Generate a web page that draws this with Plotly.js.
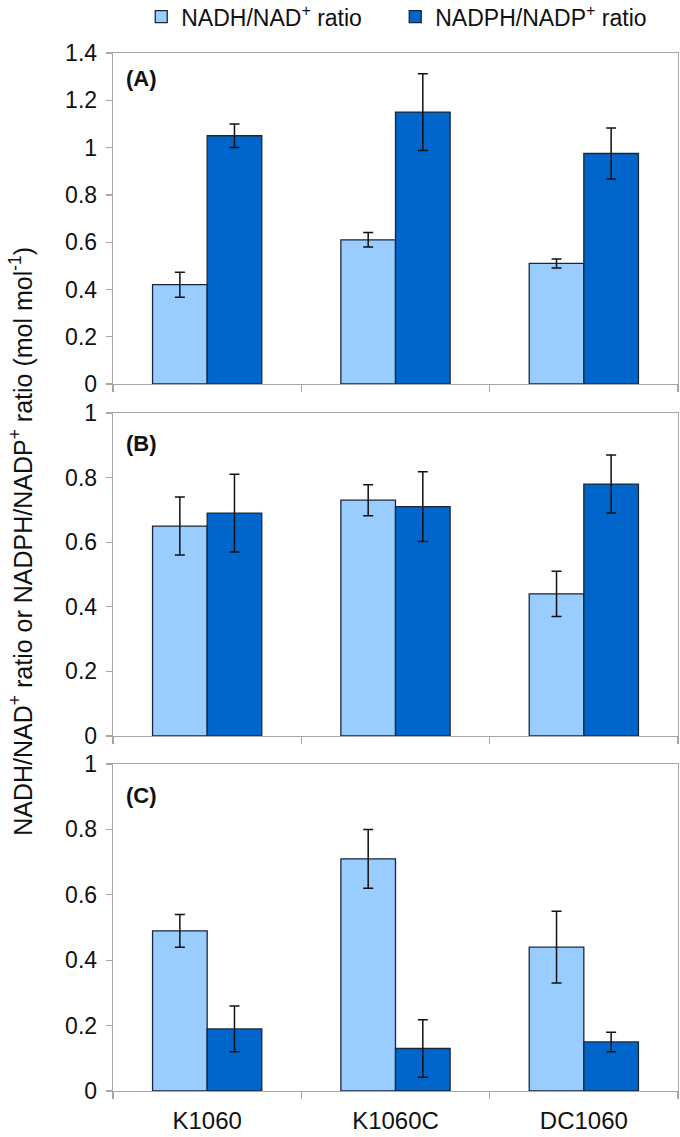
<!DOCTYPE html>
<html>
<head>
<meta charset="utf-8">
<script src="https://cdn.plot.ly/plotly-3.0.1.min.js"></script>
<style>html,body{margin:0;padding:0;background:#fff;}</style>
</head>
<body>
<div id="chart" style="width:680px;height:1137px;"></div>
<script>
// Data
var categories = ["K1060", "K1060C", "DC1060"];
var seriesNames = ["NADH/NAD<sup>+</sup> ratio", "NADPH/NADP<sup>+</sup> ratio"];

// Panel (A)
var nadA = [0.42, 0.61, 0.51];
var nadAErr = [0.053, 0.031, 0.019];
var nadpA = [1.05, 1.15, 0.975];
var nadpAErr = [0.05, 0.162, 0.108];

// Panel (B)
var nadB = [0.65, 0.73, 0.44];
var nadBErr = [0.09, 0.048, 0.07];
var nadpB = [0.69, 0.71, 0.78];
var nadpBErr = [0.12, 0.108, 0.09];

// Panel (C)
var nadC = [0.49, 0.71, 0.44];
var nadCErr = [0.05, 0.09, 0.11];
var nadpC = [0.19, 0.13, 0.15];
var nadpCErr = [0.07, 0.088, 0.03];

var panelLabels = ["(A)", "(B)", "(C)"];

var lightColor = "#99CCFF";
var darkColor = "#0066CC";
var outline = "#1B2738";
var FONT = "Liberation Sans, Arial, sans-serif";

function bar(y, err, color, name, xa, ya, showleg) {
  return {
    type: "bar", x: categories, y: y, name: name,
    xaxis: xa, yaxis: ya, showlegend: showleg,
    marker: {color: color, line: {color: outline, width: 1.3}},
    error_y: {type: "data", array: err, visible: true, color: "#111", thickness: 1.5, width: 5}
  };
}

var traces = [
  bar(nadA, nadAErr, lightColor, seriesNames[0], "x3", "y3", true),
  bar(nadpA, nadpAErr, darkColor, seriesNames[1], "x3", "y3", true),
  bar(nadB, nadBErr, lightColor, seriesNames[0], "x2", "y2", false),
  bar(nadpB, nadpBErr, darkColor, seriesNames[1], "x2", "y2", false),
  bar(nadC, nadCErr, lightColor, seriesNames[0], "x", "y", false),
  bar(nadpC, nadpCErr, darkColor, seriesNames[1], "x", "y", false)
];

var axisLine = "#A6A6A6";
function xax(showLabels, anchor) {
  return {
    type: "category", range: [-0.5, 2.5], anchor: anchor,
    showline: true, linecolor: axisLine, linewidth: 1.3, mirror: true,
    ticks: "outside", tickson: "boundaries", ticklen: 7, tickcolor: axisLine, tickwidth: 1.3,
    showticklabels: showLabels, showgrid: false, zeroline: false,
    ticklabelstandoff: 8,
    tickfont: {family: FONT, size: 24, color: "#111"}
  };
}
function yax(domain, max, anchor) {
  return {
    domain: domain, range: [0, max], dtick: 0.2, anchor: anchor,
    showline: true, linecolor: axisLine, linewidth: 1.3, mirror: true,
    ticks: "outside", ticklen: 6, tickcolor: axisLine, tickwidth: 1.3,
    showgrid: false, zeroline: false,
    ticklabelstandoff: 4,
    tickfont: {family: FONT, size: 23, color: "#111"}
  };
}

var layout = {
  width: 680, height: 1137,
  margin: {l: 113, r: 2, t: 53, b: 46, autoexpand: false},
  paper_bgcolor: "#fff", plot_bgcolor: "#fff",
  barmode: "group", bargap: 0.42, bargroupgap: 0,
  showlegend: true,
  legend: {orientation: "h", x: 0.05, xanchor: "left", y: 1.035, yanchor: "middle",
    entrywidth: 209, entrywidthmode: "pixels",
    font: {family: FONT, size: 23, color: "#111"}, traceorder: "normal"},
  xaxis: xax(true, "y"),
  xaxis2: xax(false, "y2"),
  xaxis3: xax(false, "y3"),
  yaxis: yax([0, 0.315], 1, "x"),
  yaxis2: yax([0.342, 0.6532], 1, "x2"),
  yaxis3: yax([0.6811, 1], 1.4, "x3"),
  annotations: [
    {text: panelLabels[0], xref: "paper", yref: "paper", x: 0.02, y: 0.975, xanchor: "left", yanchor: "middle", showarrow: false,
     font: {family: FONT, size: 22, color: "#111", weight: "bold"}},
    {text: panelLabels[1], xref: "paper", yref: "paper", x: 0.02, y: 0.624, xanchor: "left", yanchor: "middle", showarrow: false,
     font: {family: FONT, size: 22, color: "#111", weight: "bold"}},
    {text: panelLabels[2], xref: "paper", yref: "paper", x: 0.02, y: 0.285, xanchor: "left", yanchor: "middle", showarrow: false,
     font: {family: FONT, size: 22, color: "#111", weight: "bold"}},
    {text: "NADH/NAD<sup>+</sup> ratio or NADPH/NADP<sup>+</sup> ratio (mol mol<sup>-1</sup>)",
     xref: "paper", yref: "paper", x: -0.163, y: 0.53, xanchor: "center", yanchor: "middle",
     textangle: -90, showarrow: false, font: {family: FONT, size: 25, color: "#111"}}
  ]
};

Plotly.newPlot("chart", traces, layout, {displayModeBar: false, staticPlot: true});
</script>
</body>
</html>
